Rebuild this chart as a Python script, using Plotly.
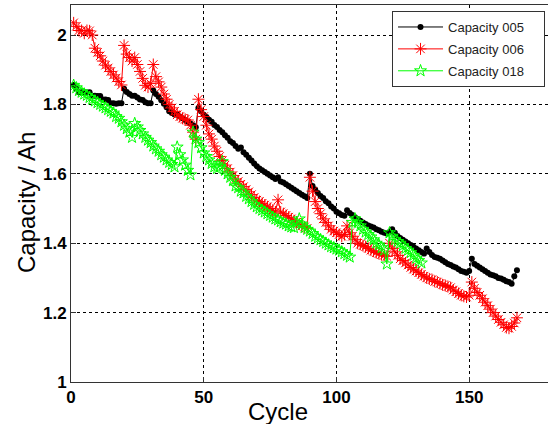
import plotly.graph_objects as go

# Capacity (Ah) per cycle
cap_005 = [
    1.856, 1.846, 1.835, 1.835, 1.835, 1.834, 1.835, 1.825, 1.825, 1.824,
    1.824, 1.814, 1.814, 1.813, 1.803, 1.803, 1.802, 1.803, 1.803, 1.845,
    1.836, 1.830, 1.825, 1.825, 1.820, 1.814, 1.813, 1.806, 1.803, 1.803,
    1.840, 1.830, 1.822, 1.812, 1.802, 1.792, 1.780, 1.775, 1.771, 1.770,
    1.765, 1.760, 1.755, 1.750, 1.745, 1.740, 1.734, 1.790, 1.780, 1.770,
    1.764, 1.756, 1.750, 1.741, 1.735, 1.726, 1.720, 1.711, 1.704, 1.694,
    1.689, 1.680, 1.672, 1.676, 1.662, 1.655, 1.646, 1.638, 1.630, 1.622,
    1.615, 1.610, 1.605, 1.600, 1.595, 1.590, 1.585, 1.590, 1.578, 1.575,
    1.570, 1.565, 1.560, 1.555, 1.550, 1.545, 1.540, 1.535, 1.530, 1.600,
    1.565, 1.555, 1.545, 1.536, 1.530, 1.521, 1.515, 1.506, 1.500, 1.491,
    1.486, 1.481, 1.479, 1.495, 1.487, 1.481, 1.475, 1.470, 1.465, 1.460,
    1.455, 1.451, 1.448, 1.445, 1.440, 1.437, 1.433, 1.430, 1.428, 1.432,
    1.440, 1.430, 1.421, 1.415, 1.410, 1.405, 1.400, 1.395, 1.390, 1.385,
    1.380, 1.375, 1.370, 1.385, 1.375, 1.366, 1.360, 1.358, 1.355, 1.350,
    1.345, 1.340, 1.337, 1.333, 1.330, 1.325, 1.320, 1.318, 1.315, 1.320,
    1.355, 1.340, 1.335, 1.330, 1.325, 1.320, 1.315, 1.310, 1.308, 1.305,
    1.300, 1.298, 1.295, 1.290, 1.288, 1.283, 1.305, 1.322,
]

cap_006 = [
    2.035, 2.025, 2.013, 2.013, 2.005, 2.013, 2.012, 2.000, 1.962, 1.950,
    1.940, 1.925, 1.913, 1.905, 1.895, 1.885, 1.876, 1.866, 1.856, 1.970,
    1.945, 1.935, 1.925, 1.935, 1.915, 1.895, 1.875, 1.855, 1.850, 1.860,
    1.915, 1.880, 1.865, 1.850, 1.830, 1.815, 1.800, 1.790, 1.780, 1.770,
    1.765, 1.760, 1.757, 1.755, 1.740, 1.720, 1.700, 1.815, 1.785, 1.765,
    1.740, 1.715, 1.700, 1.680, 1.665, 1.650, 1.638, 1.625, 1.615, 1.605,
    1.595, 1.585, 1.578, 1.570, 1.563, 1.555, 1.548, 1.540, 1.532, 1.524,
    1.520, 1.515, 1.510, 1.505, 1.500, 1.495, 1.490, 1.525, 1.490, 1.485,
    1.480, 1.475, 1.470, 1.465, 1.460, 1.455, 1.450, 1.447, 1.443, 1.590,
    1.550, 1.520, 1.500, 1.485, 1.470, 1.460, 1.450, 1.440, 1.435, 1.430,
    1.425, 1.420, 1.425, 1.450, 1.430, 1.420, 1.410, 1.400, 1.397, 1.393,
    1.390, 1.385, 1.380, 1.377, 1.373, 1.370, 1.367, 1.365, 1.362, 1.400,
    1.385, 1.375, 1.365, 1.355, 1.350, 1.343, 1.337, 1.330, 1.325, 1.320,
    1.315, 1.310, 1.305, 1.300, 1.297, 1.295, 1.290, 1.288, 1.284, 1.280,
    1.278, 1.275, 1.272, 1.265, 1.260, 1.255, 1.250, 1.247, 1.245, 1.250,
    1.288, 1.270, 1.258, 1.250, 1.240, 1.230, 1.220, 1.210, 1.200, 1.190,
    1.180, 1.172, 1.165, 1.157, 1.155, 1.160, 1.170, 1.185,
]

cap_018 = [
    1.855, 1.848, 1.840, 1.835, 1.830, 1.826, 1.820, 1.815, 1.810, 1.805,
    1.800, 1.795, 1.790, 1.785, 1.780, 1.775, 1.765, 1.760, 1.750, 1.740,
    1.730, 1.720, 1.705, 1.745, 1.735, 1.725, 1.715, 1.705, 1.697, 1.690,
    1.680, 1.672, 1.665, 1.655, 1.648, 1.640, 1.633, 1.627, 1.620, 1.677,
    1.655, 1.640, 1.625, 1.610, 1.597, 1.720, 1.700, 1.690, 1.675, 1.660,
    1.650, 1.640, 1.630, 1.620, 1.615, 1.620, 1.635, 1.610, 1.600, 1.590,
    1.580, 1.565, 1.560, 1.550, 1.545, 1.535, 1.528, 1.520, 1.512, 1.505,
    1.500, 1.495, 1.490, 1.485, 1.480, 1.475, 1.470, 1.467, 1.462, 1.458,
    1.455, 1.450, 1.447, 1.445, 1.460, 1.470, 1.455, 1.445, 1.440, 1.435,
    1.428, 1.420, 1.415, 1.410, 1.405, 1.400, 1.395, 1.390, 1.387, 1.383,
    1.380, 1.375, 1.370, 1.365, 1.360, 1.460, 1.470, 1.460, 1.450, 1.440,
    1.432, 1.425, 1.418, 1.410, 1.400, 1.395, 1.387, 1.380, 1.340, 1.430,
    1.420, 1.410, 1.405, 1.400, 1.393, 1.385, 1.380, 1.373, 1.365, 1.357,
    1.350, 1.343,
]

cycles_005 = list(range(1, len(cap_005) + 1))
cycles_006 = list(range(1, len(cap_006) + 1))
cycles_018 = list(range(1, len(cap_018) + 1))

series_names = ["Capacity 005", "Capacity 006", "Capacity 018"]
x_ticks = [0, 50, 100, 150]
y_ticks = [1, 1.2, 1.4, 1.6, 1.8, 2]
y_tick_labels = ["1", "1.2", "1.4", "1.6", "1.8", "2"]

FONT = "Liberation Sans, Arial, sans-serif"
PAD = "\u00a0" * 4  # extra room on the right of the legend texts

fig = go.Figure()
fig.add_trace(go.Scatter(
    x=cycles_005, y=cap_005, name=series_names[0] + PAD, mode="lines+markers",
    line=dict(color="black", width=1),
    marker=dict(symbol="circle", size=6, color="black"),
    legendgroup="a",
))
fig.add_trace(go.Scatter(
    x=cycles_006, y=cap_006, name=series_names[1] + PAD, mode="lines+markers",
    line=dict(color="#ff0000", width=1),
    marker=dict(symbol="asterisk-open", size=10, color="#ff0000",
                line=dict(color="#ff0000", width=1)),
    legendgroup="b",
))
fig.add_trace(go.Scatter(
    x=cycles_018, y=cap_018, name=series_names[2] + PAD, mode="lines+markers",
    line=dict(color="#00ff00", width=1),
    marker=dict(symbol="star-open", size=9, color="#00ff00",
                line=dict(color="#00ff00", width=1)),
    legendgroup="c",
))

fig.update_layout(
    width=548, height=424,
    margin=dict(l=71, r=0, t=5, b=42),
    paper_bgcolor="white", plot_bgcolor="white",
    font=dict(family=FONT, color="black"),
    showlegend=True,
    legend=dict(
        x=0.673, y=0.984, xanchor="left", yanchor="top",
        bgcolor="white", bordercolor="#333333", borderwidth=1,
        font=dict(family=FONT, size=13, color="#222222"),
        tracegroupgap=2, itemwidth=45,
    ),
    annotations=[
        dict(text="Cycle", xref="paper", yref="paper", x=0.434, y=-0.077,
             xanchor="center", yanchor="middle", showarrow=False,
             font=dict(family=FONT, size=24, color="black")),
        dict(text="Capacity / Ah", xref="paper", yref="paper", x=-0.092, y=0.475,
             xanchor="center", yanchor="middle", showarrow=False, textangle=-90,
             font=dict(family=FONT, size=24, color="black")),
    ],
)

fig.update_xaxes(
    range=[0, 179.7], tickvals=x_ticks, ticktext=[str(v) for v in x_ticks],
    showgrid=True, gridcolor="black", griddash="dot", gridwidth=1,
    showline=True, linecolor="#333333", linewidth=1, mirror=True,
    ticks="inside", ticklen=5, tickcolor="#333333",
    tickfont=dict(family=FONT, size=17, color="black", weight="bold"),
    zeroline=False,
)
fig.update_yaxes(
    range=[1, 2.0865], tickvals=y_ticks, ticktext=y_tick_labels,
    showgrid=True, gridcolor="black", griddash="dot", gridwidth=1,
    showline=True, linecolor="#333333", linewidth=1, mirror=False,
    ticks="inside", ticklen=5, tickcolor="#333333",
    tickfont=dict(family=FONT, size=17, color="black", weight="bold"),
    zeroline=False, ticklabelstandoff=0,
)

fig.write_html(
    "out.html",
    config={"displayModeBar": False},
    post_script="document.body.style.margin='0';document.body.style.overflow='hidden';",
)
